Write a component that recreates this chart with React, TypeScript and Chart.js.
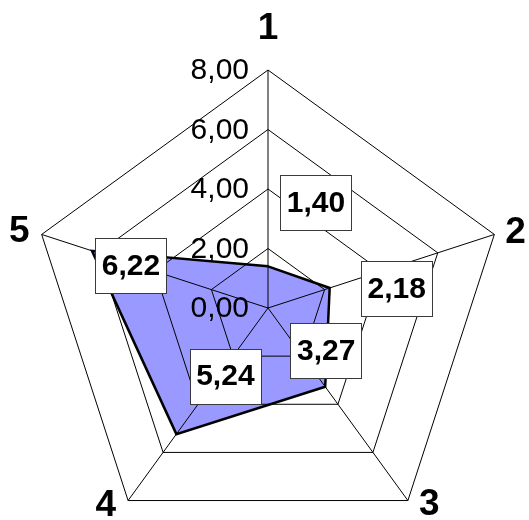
import React, { useEffect, useRef } from "react";
import { Chart, registerables } from "chart.js";

Chart.register(...registerables);

// ---- data ----
const categories = ["1", "2", "3", "4", "5"];
const seriesValues = [1.4, 2.18, 3.27, 5.24, 6.22];
const tickValues = [0, 2, 4, 6, 8];

// ---- styling / layout helpers (not data) ----
const FONT = "'Liberation Sans', Arial, sans-serif";
// offsets of each value box from its point (px)
const valueBoxOffsets = [
  [48, -64],
  [67, 1],
  [1, -36],
  [49, -58],
  [39, 15],
];

const fmt = (v: number) => v.toFixed(2).replace(".", ",");

const overlayPlugin = {
  id: "overlay",
  afterDraw(chart: any) {
    const ctx = chart.ctx as CanvasRenderingContext2D;
    const scale = chart.scales.r;
    const cx = scale.xCenter;
    const cy = scale.yCenter;

    // tick labels
    ctx.save();
    ctx.fillStyle = "#000";
    ctx.font = `30px ${FONT}`;
    ctx.textAlign = "right";
    ctx.textBaseline = "middle";
    tickValues.forEach((v) => {
      const d = scale.getDistanceFromCenterForValue(v);
      ctx.fillText(fmt(v), cx - 19, cy - d + 1);
    });
    ctx.restore();

    // point (category) labels
    ctx.save();
    ctx.fillStyle = "#000";
    ctx.font = `bold 37px ${FONT}`;
    ctx.textBaseline = "middle";
    categories.forEach((lab, i) => {
      const p = scale.getPointPosition(i, scale.drawingArea);
      if (Math.abs(p.x - cx) < 2) {
        ctx.textAlign = "center";
        ctx.fillText(lab, p.x, p.y - 41);
      } else if (p.x > cx) {
        ctx.textAlign = "left";
        const dy = p.y > cy ? 4 : -2;
        ctx.fillText(lab, p.x + 11, p.y + dy);
      } else {
        ctx.textAlign = "right";
        const dy = p.y > cy ? 5 : -3;
        ctx.fillText(lab, p.x - 12, p.y + dy);
      }
    });
    ctx.restore();

    // value boxes
    const meta = chart.getDatasetMeta(0);
    ctx.save();
    ctx.font = `bold 30px ${FONT}`;
    ctx.textAlign = "center";
    ctx.textBaseline = "middle";
    meta.data.forEach((el: any, i: number) => {
      const text = fmt(seriesValues[i]);
      const [ox, oy] = valueBoxOffsets[i];
      const bx = el.x + ox;
      const by = el.y + oy;
      const w = ctx.measureText(text).width + 13;
      const h = 55;
      ctx.fillStyle = "#fff";
      ctx.fillRect(Math.round(bx - w / 2) + 0.5, Math.round(by - h / 2) + 0.5, Math.round(w), h);
      ctx.strokeStyle = "#3a3a3a";
      ctx.lineWidth = 1;
      ctx.strokeRect(Math.round(bx - w / 2) + 0.5, Math.round(by - h / 2) + 0.5, Math.round(w), h);
      ctx.fillStyle = "#000";
      ctx.fillText(text, bx, by + 1);
    });
    ctx.restore();
  },
};

export default function App() {
  const ref = useRef<HTMLCanvasElement | null>(null);
  useEffect(() => {
    if (!ref.current) return;
    const chart = new Chart(ref.current, {
      type: "radar",
      data: {
        labels: categories,
        datasets: [
          {
            data: seriesValues,
            backgroundColor: "#9999FF",
            borderColor: "#000",
            borderWidth: 2.5,
            fill: true,
            pointRadius: 0,
            pointHoverRadius: 0,
            tension: 0,
          },
        ],
      },
      options: {
        animation: false,
        responsive: false,
        devicePixelRatio: 1,
        layout: { padding: { left: 30, top: 70, right: 23, bottom: 54 } },
        plugins: { legend: { display: false }, tooltip: { enabled: false } },
        scales: {
          r: {
            min: 0,
            max: 8,
            ticks: { stepSize: 2, display: false, showLabelBackdrop: false },
            grid: { color: "#000", lineWidth: 1, z: 1 },
            angleLines: { color: "#000", lineWidth: 1 },
            pointLabels: { display: false },
          },
        },
      },
      plugins: [overlayPlugin],
    });
    return () => chart.destroy();
  }, []);
  return (
    <div
      style={{
        position: "absolute",
        left: 0,
        top: 0,
        width: 529,
        height: 520,
        overflow: "hidden",
        background: "#fff",
      }}
    >
      <canvas ref={ref} width={529} height={600} style={{ display: "block", width: 529, height: 600 }} />
    </div>
  );
}
